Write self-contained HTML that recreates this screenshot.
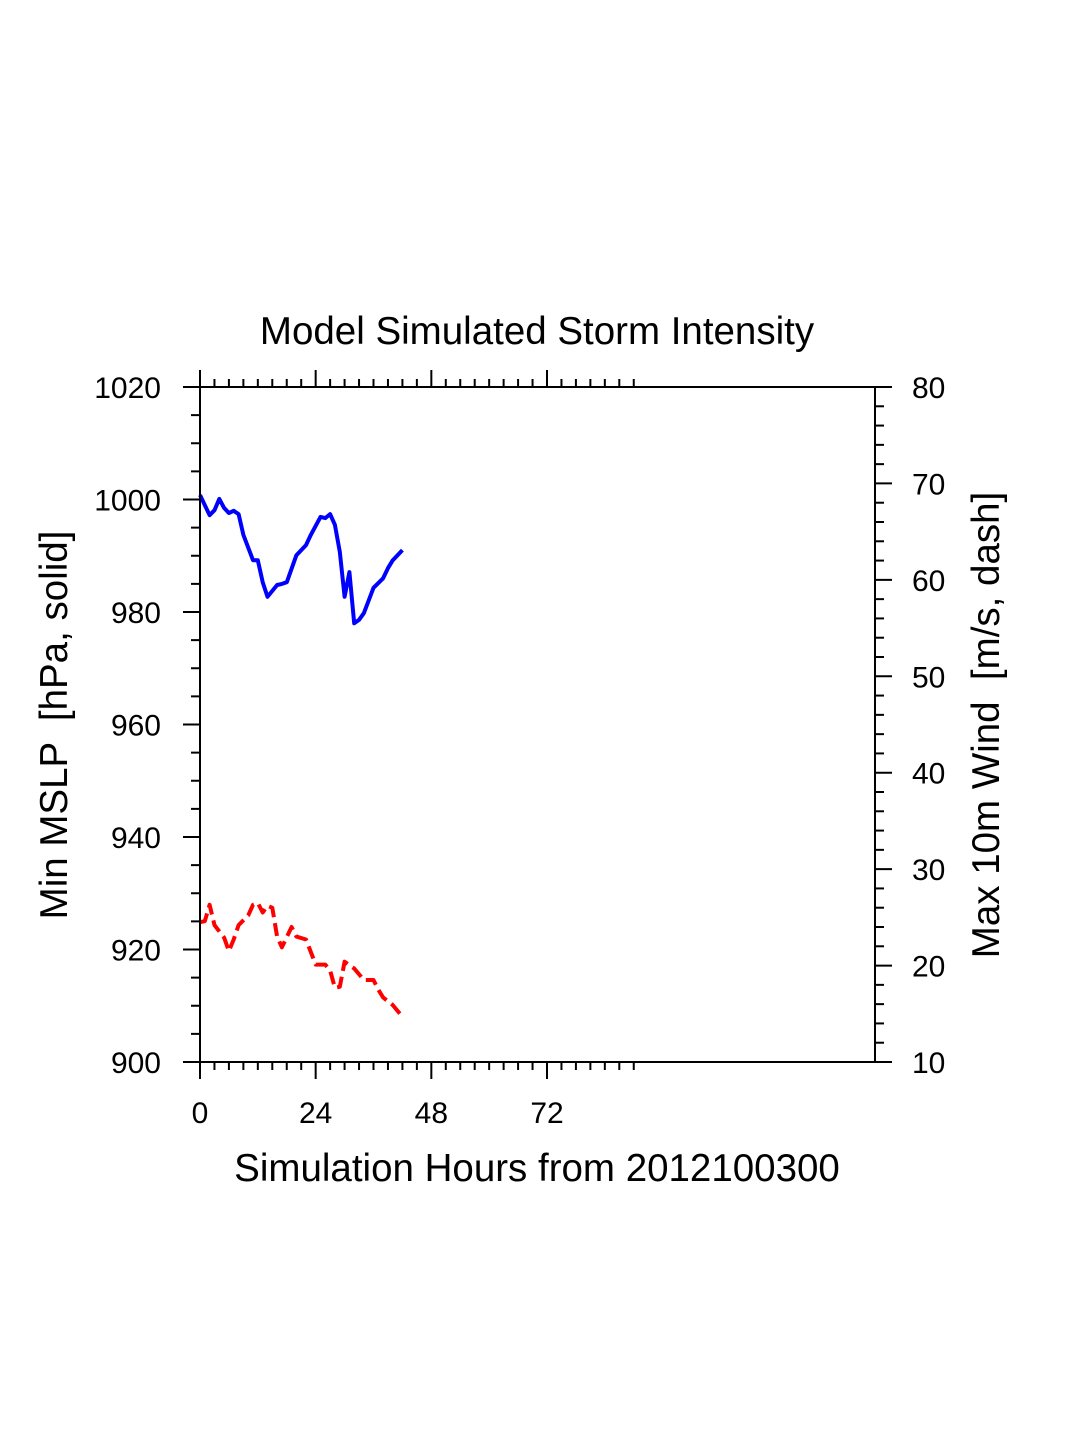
<!DOCTYPE html>
<html><head><meta charset="utf-8"><style>
html,body{margin:0;padding:0;background:#fff;}
svg{display:block;font-family:"Liberation Sans",Arial,sans-serif;}
text{white-space:pre;}
</style></head><body>
<svg id="chart" width="1075" height="1450" viewBox="0 0 1075 1450" xmlns="http://www.w3.org/2000/svg">
<rect width="1075" height="1450" fill="#fff"/>
<text x="537" y="344" font-size="38.5" text-anchor="middle">Model Simulated Storm Intensity</text>
<text x="537" y="1181" font-size="38.5" text-anchor="middle">Simulation Hours from 2012100300</text>
<text transform="translate(67,725) rotate(-90)" font-size="38.5" text-anchor="middle" xml:space="preserve">Min MSLP  [hPa, solid]</text>
<text transform="translate(999,725) rotate(-90)" font-size="38.5" text-anchor="middle" xml:space="preserve">Max 10m Wind  [m/s, dash]</text>
<g id="axes"></g>
<g id="series"></g>
<rect x="200" y="387" width="675" height="675" fill="none" stroke="#000" stroke-width="2"/>
</svg>
<script>
const hoursP = [0,2,3,4,5,6,7,8,9,11,12,13,14,16,17,18,20,22,23,25,26,27,28,29,30,31,32,33,34,36,38,39,40,42];
const mslp = [1000.8,997.2,998.1,1000.1,998.5,997.6,998.0,997.4,993.7,989.2,989.2,985.3,982.7,984.8,985.0,985.3,990.1,991.9,993.7,996.9,996.7,997.4,995.5,990.7,982.7,987.1,978.0,978.6,979.8,984.3,986.0,987.8,989.2,991.0];
const hoursW = [0,1,2,3,5,6,7,8,10,11,12,13,14,15,16,17,19,20,22,24,26,27,28,29,30,32,34,36,37,38,40,42];
const wind = [24.5,24.6,26.3,24.2,22.9,21.5,22.7,24.2,25.2,26.3,26.5,25.5,26.2,26.0,23.0,21.9,24.0,23.0,22.7,20.1,20.1,19.5,17.7,17.8,20.4,19.7,18.5,18.5,17.5,16.7,15.9,14.7];
const xTicks = [0,24,48,72];
const leftTicks = [900,920,940,960,980,1000,1020];
const rightTicks = [10,20,30,40,50,60,70,80];

const X0=200,X1=875,Y0=387,Y1=1062;
const xs = h => X0 + h*(547-200)/72;
const yl = p => Y1 - (p-900)/(120)*(Y1-Y0);
const yr = w => Y1 - (w-10)/70*(Y1-Y0);
const NS="http://www.w3.org/2000/svg";
const axes=document.getElementById('axes'), series=document.getElementById('series');
function ln(g,x1,y1,x2,y2,name){const l=document.createElementNS(NS,'line');
l.setAttribute('x1',x1);l.setAttribute('y1',y1);l.setAttribute('x2',x2);l.setAttribute('y2',y2);
l.setAttribute('stroke','#000');l.setAttribute('stroke-width','2');


g.appendChild(l);}
function tx(x,y,s,anchor,name){const t=document.createElementNS(NS,'text');
t.setAttribute('x',x);t.setAttribute('y',y);t.setAttribute('font-size','30');t.setAttribute('text-anchor',anchor);t.textContent=s;


axes.appendChild(t);}
for(let h=0;h<=90;h+=3){const major=h%24===0;const x=xs(h);
 ln(axes,x,Y1,x,Y1+(major?17:8),'x-tick');
 ln(axes,x,Y0,x,Y0-(major?17:8),'x-tick-top');}
xTicks.forEach(h=>tx(xs(h),1123,String(h),'middle','x-tick-label'));
for(let p=900;p<=1020;p+=5){const major=p%20===0;ln(axes,X0,yl(p),X0-(major?17:9),yl(p),'left-y-tick');}
leftTicks.forEach(p=>tx(161,yl(p)+11,String(p),'end','left-y-tick-label'));
for(let w=10;w<=80;w+=2){const major=w%10===0;ln(axes,X1,yr(w),X1+(major?17:9),yr(w),'right-y-tick');}
rightTicks.forEach(w=>tx(912,yr(w)+11,String(w),'start','right-y-tick-label'));
function path(hs,vs,f,color,dash,name){const p=document.createElementNS(NS,'path');
 p.setAttribute('d',hs.map((h,i)=>(i?'L':'M')+xs(h).toFixed(1)+','+f(vs[i]).toFixed(1)).join(''));
 p.setAttribute('fill','none');p.setAttribute('stroke',color);p.setAttribute('stroke-width','4');
 p.setAttribute('stroke-linejoin','round');if(dash)p.setAttribute('stroke-dasharray',dash);
 
 
 series.appendChild(p);}
path(hoursP,mslp,yl,'#0000ff',null,'mslp-line');
path(hoursW,wind,yr,'#ff0000','13,6','wind-line');
</script>
</body></html>
